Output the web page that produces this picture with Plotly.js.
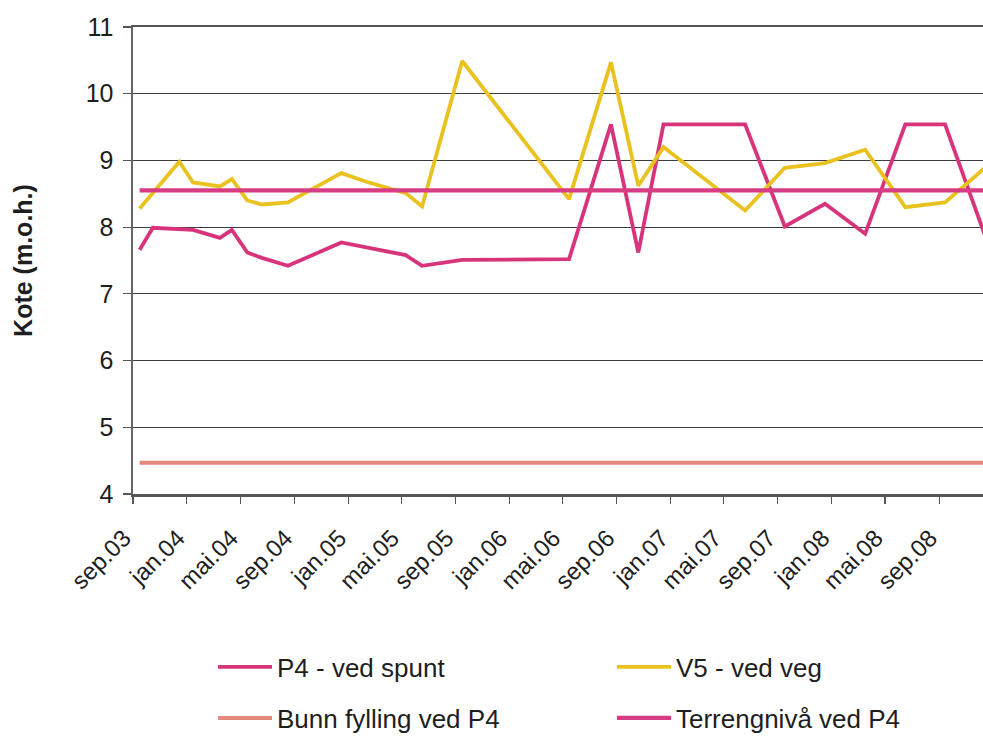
<!DOCTYPE html>
<html><head><meta charset="utf-8">
<script src="https://cdn.plot.ly/plotly-3.0.1.min.js"></script>
<style>html,body{margin:0;padding:0;background:#fff;overflow:hidden}#chart{width:983px;height:736px}</style>
</head><body><div id="chart"></div>
<script>
// Measurement dates and levels (m.o.h.)
const datesP4 = ['2003-09-16','2003-10-16','2004-01-15','2004-03-16','2004-04-12','2004-05-17','2004-06-19','2004-08-17','2004-12-16','2005-02-11','2005-05-11','2005-06-17','2005-09-16','2006-05-16','2006-08-19','2006-10-20','2006-12-16','2007-06-19','2007-09-17','2007-12-17','2008-03-17','2008-06-16','2008-09-14','2008-12-15'];
const valuesP4 = [7.66,7.99,7.96,7.84,7.96,7.62,7.54,7.42,7.77,7.70,7.58,7.42,7.51,7.52,9.54,7.62,9.54,9.54,8.01,8.35,7.90,9.54,9.54,7.85];

const datesV5 = ['2003-09-16','2003-12-15','2004-01-15','2004-03-16','2004-04-12','2004-05-17','2004-06-19','2004-08-17','2004-12-16','2005-02-11','2005-05-11','2005-06-17','2005-09-16','2006-05-16','2006-08-19','2006-10-20','2006-12-16','2007-06-19','2007-09-17','2007-12-17','2008-03-17','2008-06-16','2008-09-14','2008-12-15'];
const valuesV5 = [8.28,8.98,8.67,8.61,8.72,8.40,8.34,8.37,8.81,8.68,8.51,8.31,10.49,8.42,10.47,8.62,9.20,8.25,8.89,8.96,9.16,8.30,8.37,8.90];

const levelDates = ['2003-09-16','2008-12-15'];
const bunnFylling = [4.47, 4.47];
const terrengniva = [8.55, 8.55];

const tickDates = ['2003-09-01','2004-01-01','2004-05-01','2004-09-01','2005-01-01','2005-05-01','2005-09-01','2006-01-01','2006-05-01','2006-09-01','2007-01-01','2007-05-01','2007-09-01','2008-01-01','2008-05-01','2008-09-01','2009-01-01'];
const tickLabels = ['sep.03','jan.04','mai.04','sep.04','jan.05','mai.05','sep.05','jan.06','mai.06','sep.06','jan.07','mai.07','sep.07','jan.08','mai.08','sep.08','jan.09'];
const yTicks = [4,5,6,7,8,9,10,11];

const FONT = '"Liberation Sans", Arial, sans-serif';

const traces = [
  {x: datesP4, y: valuesP4, name: 'P4 - ved spunt', mode: 'lines', line: {color: '#D8347C', width: 3.8}, legend: 'legend'},
  {x: datesV5, y: valuesV5, name: 'V5 - ved veg', mode: 'lines', line: {color: '#E9C21F', width: 3.8}, legend: 'legend2'},
  {x: levelDates, y: bunnFylling, name: 'Bunn fylling ved P4', mode: 'lines', line: {color: '#E38A7C', width: 4}, legend: 'legend3'},
  {x: levelDates, y: terrengniva, name: 'Terrengnivå ved P4', mode: 'lines', line: {color: '#D83C84', width: 4.2}, legend: 'legend4'}
];

// plot area: left 133, right 983, top 27, bottom 494
function leg(px, py) {
  return {xref: 'paper', yref: 'paper', x: (px - 133) / 850, y: (494 - py) / 467,
    xanchor: 'left', yanchor: 'middle', bgcolor: 'rgba(0,0,0,0)', borderwidth: 0,
    itemwidth: 54, font: {family: FONT, size: 26, color: '#1e1e1e'}};
}

const layout = {
  width: 983, height: 736,
  paper_bgcolor: '#fff', plot_bgcolor: '#fff',
  margin: {l: 133, r: 0, t: 27, b: 242, pad: 0, autoexpand: false},
  font: {family: FONT, color: '#1e1e1e'},
  showlegend: true,
  xaxis: {
    type: 'date', range: ['2003-09-01', '2008-12-09'], automargin: false,
    tickmode: 'array', tickvals: tickDates, ticktext: tickLabels,
    tickangle: -45, ticks: 'outside', ticklen: 7, tickwidth: 1.2, tickcolor: '#555',
    tickfont: {family: FONT, size: 24, color: '#1e1e1e'},
    ticklabelstandoff: 11, ticklabelshift: -9,
    showgrid: false, zeroline: false,
    showline: true, linecolor: '#555', linewidth: 2.5, mirror: true
  },
  yaxis: {
    range: [4, 11], tickmode: 'array', tickvals: yTicks, automargin: false,
    ticks: 'outside', ticklen: 8, tickwidth: 1.2, tickcolor: '#555',
    tickfont: {family: FONT, size: 25, color: '#1e1e1e'},
    ticklabelstandoff: 4,
    showgrid: true, gridcolor: '#3c3c3c', gridwidth: 1.1,
    zeroline: false, showline: true, linecolor: '#666', linewidth: 2.5,
    title: {text: 'Kote (m.o.h.)', font: {family: FONT, size: 25, weight: 'bold', color: '#1e1e1e'}, standoff: 46}
  },
  legend: leg(213, 667),
  legend2: leg(612, 667),
  legend3: leg(213, 718),
  legend4: leg(612, 718)
};

Plotly.newPlot('chart', traces, layout, {displayModeBar: false, staticPlot: true});
</script>
</body></html>
